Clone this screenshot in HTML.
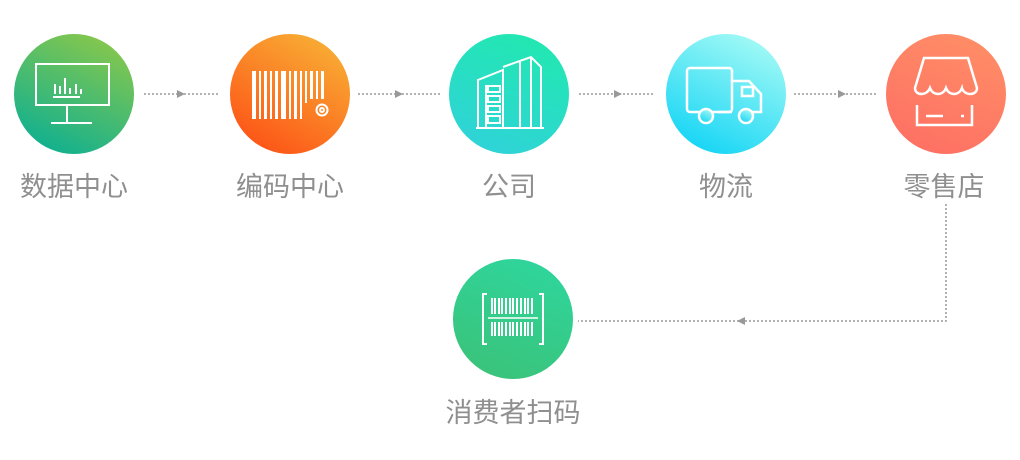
<!DOCTYPE html>
<html><head><meta charset="utf-8"><style>
html,body{margin:0;padding:0;background:#fff;width:1020px;height:460px;overflow:hidden}
text{font-family:"Liberation Sans","Noto Sans CJK SC",sans-serif;font-size:27px;fill:#8f8f8f}
</style></head><body>
<svg width="1020" height="460" viewBox="0 0 1020 460" xmlns="http://www.w3.org/2000/svg">
<defs>
<linearGradient id="g1" x1="0.8" y1="0" x2="0.3" y2="1"><stop offset="0" stop-color="#8bc84a"/><stop offset="1" stop-color="#10b090"/></linearGradient>
<linearGradient id="g2" x1="0.8" y1="0" x2="0.2" y2="1"><stop offset="0" stop-color="#f8b035"/><stop offset="1" stop-color="#fd5116"/></linearGradient>
<linearGradient id="g3" x1="0.7" y1="0" x2="0.3" y2="1"><stop offset="0" stop-color="#22e8b0"/><stop offset="1" stop-color="#2fd3d8"/></linearGradient>
<linearGradient id="g4" x1="0.8" y1="0" x2="0.3" y2="1"><stop offset="0" stop-color="#a8fbf5"/><stop offset="1" stop-color="#16d5f5"/></linearGradient>
<linearGradient id="g5" x1="0.7" y1="0" x2="0.3" y2="1"><stop offset="0" stop-color="#ff8d66"/><stop offset="1" stop-color="#fe7064"/></linearGradient>
<linearGradient id="g6" x1="0.7" y1="0" x2="0.3" y2="1"><stop offset="0" stop-color="#2fd59c"/><stop offset="1" stop-color="#3ac37a"/></linearGradient>
</defs>
<circle cx="74" cy="94" r="60" fill="url(#g1)"/>
<circle cx="290" cy="94" r="60" fill="url(#g2)"/>
<circle cx="509" cy="94" r="60" fill="url(#g3)"/>
<circle cx="726" cy="94" r="60" fill="url(#g4)"/>
<circle cx="946" cy="94" r="60" fill="url(#g5)"/>
<circle cx="513" cy="319" r="60" fill="url(#g6)"/>
<g stroke="#fff" stroke-width="2" fill="none">
<rect x="36" y="64" width="73" height="41"/><path d="M67 105v17M51 123h41M53 97h27M55 94v-10M60 94v-8M65 94v-16M70 94v-6M76 94v-10M81 94v-5"/>
<path d="M478 128V80l25-10v58M486 128V85M503 67l28-10 10 10v61M520 128V62M531 57v71M476 128h68"/>
<rect x="488" y="86" width="12" height="6"/><rect x="488" y="96" width="12" height="6"/><rect x="488" y="106" width="12" height="6"/><rect x="488" y="116" width="12" height="7"/>
<g stroke-width="2.5">
<rect x="687" y="68" width="45" height="44" rx="3"/><path d="M732 81h17l12 13v18h-9M732 112h-14"/>
<path d="M742 87h11v9h-11z"/><circle cx="706" cy="116" r="7" fill="url(#g4)"/><circle cx="746" cy="116" r="7" fill="url(#g4)"/>
<path d="M924 58h44l9 30c0 8-13 8-15 0-3 8-13 8-16 0-3 8-13 8-16 0-3 8-15 8-15 0z"/>
<path d="M917 105v20h55v-20M926 116h17M961 116h3"/>
</g>
<path d="M487 294h-4v50h4M539 294h4v50h-4"/>
<path d="M492 298v16M495 298v16M499 298v16M502 298v16M506 298v16M510 298v16M513 298v16M517 298v16M521 298v16M525 298v16M528 298v16M532 298v16M492 322v14M495 322v14M499 322v14M502 322v14M506 322v14M510 322v14M513 322v14M517 322v14M521 322v14M525 322v14M528 322v14M532 322v14"/>
<path d="M488 318h50" stroke-width="1.5"/>
<circle cx="322" cy="110" r="5.5"/><circle cx="322" cy="110" r="2"/>
</g>
<g fill="#fff">
<rect x="252" y="71" width="4" height="48"/><rect x="259" y="71" width="2" height="48"/><rect x="264" y="71" width="3" height="48"/><rect x="270" y="71" width="2" height="48"/><rect x="275" y="71" width="3" height="48"/><rect x="281" y="71" width="5" height="48"/><rect x="289" y="71" width="2" height="48"/><rect x="294" y="71" width="3" height="48"/><rect x="300" y="71" width="2" height="48"/><rect x="305" y="71" width="2" height="32"/><rect x="310" y="71" width="3" height="28"/><rect x="316" y="71" width="2" height="28"/><rect x="321" y="71" width="3" height="28"/>
</g>
<g stroke="#999" stroke-width="1.5" stroke-dasharray="2 2" fill="none">
<path d="M144 94h76M358 94h84M579 94h76M794 94h82M946 204v117H578"/>
</g>
<g fill="#999">
<path d="M177 90l8 4-8 4z"/><path d="M395 90l8 4-8 4z"/><path d="M614 90l8 4-8 4z"/><path d="M838 90l8 4-8 4z"/><path d="M745 317l-8 4 8 4z"/>
</g>
<text x="74" y="196" text-anchor="middle">数据中心</text>
<text x="290" y="196" text-anchor="middle">编码中心</text>
<text x="509" y="196" text-anchor="middle">公司</text>
<text x="726" y="196" text-anchor="middle">物流</text>
<text x="944" y="196" text-anchor="middle">零售店</text>
<text x="513" y="422" text-anchor="middle">消费者扫码</text>
</svg>
</body></html>
